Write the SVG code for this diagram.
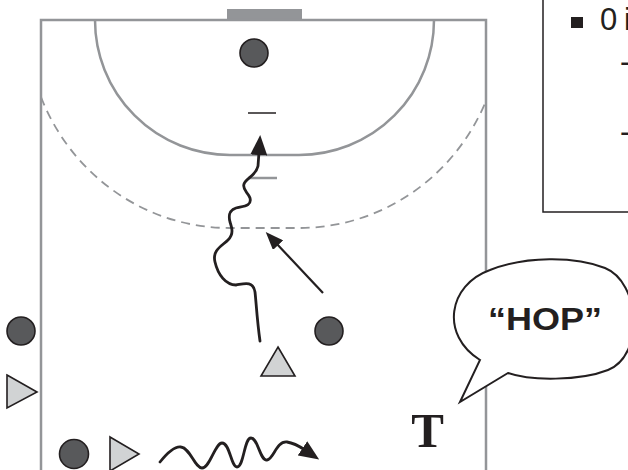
<svg xmlns="http://www.w3.org/2000/svg" width="628" height="470" viewBox="0 0 628 470">
<defs>
<style>
.court{fill:none;stroke:#939598;stroke-width:2.5}
.dash{fill:none;stroke:#939598;stroke-width:1.8;stroke-dasharray:9 6}
.player{fill:#58595b;stroke:#231f20;stroke-width:1.6}
.tri{fill:#d1d3d4;stroke:#231f20;stroke-width:1.6}
.move{fill:none;stroke:#231f20;stroke-width:2.8;stroke-linecap:round}
.pass{fill:none;stroke:#231f20;stroke-width:2.2}
.txt{font-family:"Liberation Sans",Arial,sans-serif;fill:#231f20}
</style>
<marker id="ah" viewBox="0 0 20 17" refX="3" refY="8.5" markerWidth="20" markerHeight="17" orient="auto" markerUnits="userSpaceOnUse">
<path d="M0,0 L20,8.5 L0,17 Z" fill="#231f20"/>
</marker>
<marker id="ah2" viewBox="0 0 18 14" refX="3" refY="7" markerWidth="18" markerHeight="14" orient="auto" markerUnits="userSpaceOnUse">
<path d="M0,0 L18,7 L0,14 Z" fill="#231f20"/>
</marker>
</defs>
<rect width="628" height="470" fill="#ffffff"/>
<g id="court">
<rect x="227" y="9" width="75" height="11" fill="#939598"/>
<path class="court" d="M41,470 L41,20 L486,20 L486,470"/>
<path class="court" d="M95,20 A135,135 0 0 0 230,155 L299,155 A135,135 0 0 0 434,20"/>
<path class="dash" d="M41,97 A203,208 0 0 0 230,228 L299,228 A203,208 0 0 0 486,101"/>
<line x1="248" y1="113" x2="276" y2="113" stroke="#231f20" stroke-width="1.5"/>
<line x1="248" y1="178" x2="277" y2="178" stroke="#939598" stroke-width="2.5"/>
</g>
<g id="legend">
<path d="M543,0 L543,212 L630,212" fill="none" stroke="#231f20" stroke-width="1.5"/>
<rect x="571" y="17" width="12" height="11" fill="#231f20"/>
<text class="txt" x="600" y="30" font-size="31">0<tspan x="624">i</tspan></text>
<text class="txt" x="620" y="72" font-size="31">-</text>
<text class="txt" x="620" y="142" font-size="31">-</text>
</g>
<g id="goalkeeper"><circle class="player" cx="254" cy="53" r="14"/></g>
<g id="player-left"><circle class="player" cx="21" cy="331" r="14"/></g>
<g id="player-right"><circle class="player" cx="329" cy="331" r="14"/></g>
<g id="player-bottom"><circle class="player" cx="74" cy="454" r="14.5"/></g>
<g id="defender-up"><path class="tri" d="M278,347 L295,376 L261,376 Z"/></g>
<g id="defender-left"><path class="tri" d="M7,375 L37,392 L7,408 Z"/></g>
<g id="defender-bottom"><path class="tri" d="M110,437 L139,454 L110,471 Z"/></g>
<g id="connectors">
<path class="move" marker-end="url(#ah)" d="M260,341 C257,320 256,300 255,292 C253,280 243,284 236,285 C226,285 218,275 215,262 C212,250 222,246 228,240 C234,234 232,228 230,222 C228,214 230,210 236,208 C244,206 252,206 250,198 C248,192 242,190 244,184 C246,178 256,176 258,166 L259,152"/>
<line class="pass" x1="323" y1="293" x2="276" y2="243" marker-end="url(#ah2)"/>
<path class="move" marker-end="url(#ah)" d="M160,462 C168,452 175,446 181,447 C190,448 195,468 202,468 C210,468 215,443 222,443 C230,443 231,467 237,467 C244,467 244,438 251,438 C258,438 260,461 267,460 C274,459 276,441 287,442 C294,443 299,446 305,450"/>
</g>
<g id="bubble">
<path d="M480,360 C440,335 448,285 490,270 C525,256 575,256 605,268 C640,282 645,355 608,370 C580,381 530,381 508,373 L460,402 Z" fill="#ffffff" stroke="#231f20" stroke-width="2"/>
<text class="txt" x="488" y="330" font-size="32" font-weight="bold" textLength="114" lengthAdjust="spacingAndGlyphs">“HOP”</text>
</g>
<g id="coach">
<text x="427.5" y="447" text-anchor="middle" font-family="Liberation Serif, Times New Roman, serif" font-size="49" font-weight="bold" fill="#231f20">T</text>
</g>
</svg>
